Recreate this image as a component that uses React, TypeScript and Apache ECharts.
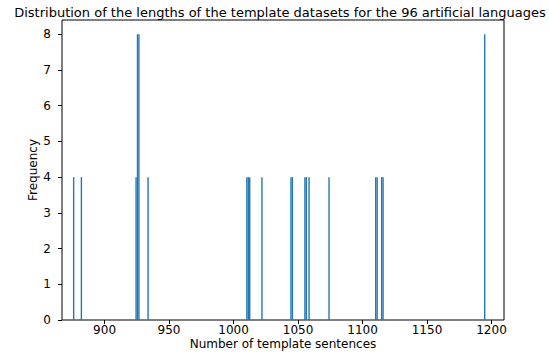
import React, { useEffect, useRef } from "react";
import * as echarts from "echarts";

// Histogram bins (left edge of each non-empty bin) and their counts
const binLefts = [875.5, 881.5, 923.9, 925.0, 926.1, 933.2, 1009.8, 1010.9, 1012.0, 1021.5, 1044.0, 1045.1, 1054.8, 1055.9, 1058.0, 1073.5, 1109.7, 1110.8, 1114.3, 1115.4, 1194.2];
const counts = [4, 4, 4, 8, 8, 4, 4, 4, 4, 4, 4, 4, 4, 4, 4, 4, 4, 4, 4, 4, 8];
const BIN_WIDTH = 1.07;

const xTicks = [900, 950, 1000, 1050, 1100, 1150, 1200];
const yTicks = [0, 1, 2, 3, 4, 5, 6, 7, 8];

const title = "Distribution of the lengths of the template datasets for the 96 artificial languages";
const xName = "Number of template sentences";
const yName = "Frequency";

export default function App() {
  const ref = useRef<HTMLDivElement>(null);
  useEffect(() => {
    const chart = echarts.init(ref.current!, null, { renderer: "svg" });
    const data = binLefts.map((l, i) => [l, l + BIN_WIDTH, counts[i]]);
    chart.setOption({
      animation: false,
      backgroundColor: "#ffffff",
      graphic: [
        {
          type: "text",
          x: 280,
          y: 12,
          style: {
            text: title,
            fontFamily: "DejaVu Sans",
            fontSize: 13,
            fill: "#000",
            textAlign: "center",
            textVerticalAlign: "middle",
          },
        },
      ],
      grid: {
        left: 62,
        right: 45,
        top: 20,
        bottom: 33,
        outerBoundsMode: "none",
        containLabel: false,
        show: true,
        borderColor: "#000",
        borderWidth: 1,
        backgroundColor: "transparent",
      },
      xAxis: {
        type: "value",
        min: 867,
        max: 1209.7,
        name: xName,
        nameLocation: "middle",
        nameGap: 18,
        nameMoveOverlap: false,
        nameTextStyle: { fontFamily: "DejaVu Sans", fontSize: 12, color: "#000" },
        axisLine: { show: false },
        splitLine: { show: false },
        axisTick: { show: true, length: 4, inside: false, customValues: xTicks, lineStyle: { color: "#000" } },
        axisLabel: {
          customValues: xTicks,
          formatter: (v: number) => String(v),
          fontFamily: "DejaVu Sans",
          fontSize: 12,
          color: "#000",
          margin: 4,
        },
      },
      yAxis: {
        type: "value",
        min: 0,
        max: 8.4,
        name: yName,
        nameLocation: "middle",
        nameGap: 23,
        nameMoveOverlap: false,
        nameTextStyle: { fontFamily: "DejaVu Sans", fontSize: 12, color: "#000" },
        axisLine: { show: false },
        splitLine: { show: false },
        axisTick: { show: true, length: 4, customValues: yTicks, lineStyle: { color: "#000" } },
        axisLabel: {
          customValues: yTicks,
          formatter: (v: number) => String(v),
          fontFamily: "DejaVu Sans",
          fontSize: 12,
          color: "#000",
          margin: 11,
        },
      },
      series: [
        {
          type: "custom",
          data,
          encode: { x: [0, 1], y: 2 },
          renderItem: (params: any, api: any) => {
            const p0 = api.coord([api.value(0), 0]);
            const p1 = api.coord([api.value(1), api.value(2)]);
            return {
              type: "rect",
              shape: { x: p0[0], y: p1[1], width: p1[0] - p0[0], height: p0[1] - p1[1] },
              style: { fill: "#1f77b4" },
            };
          },
        },
      ],
    });
    return () => chart.dispose();
  }, []);
  return (
    <div
      ref={ref}
      style={{ position: "fixed", left: 0, top: 0, width: 549, height: 353 }}
    />
  );
}
